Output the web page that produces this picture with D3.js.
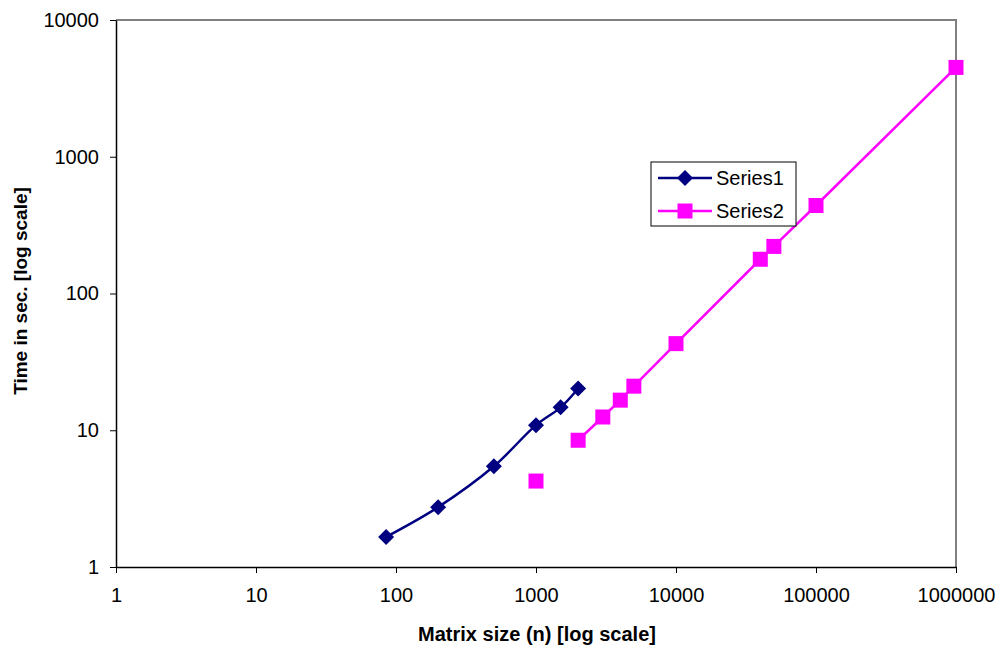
<!DOCTYPE html>
<html>
<head>
<meta charset="utf-8">
<script src="https://cdn.jsdelivr.net/npm/d3@7"></script>
<style>
  body { margin: 0; background: #fff; }
  svg { display: block; font-family: "Liberation Sans", Arial, sans-serif; }
</style>
</head>
<body>
<svg id="chart" width="1000" height="649"></svg>
<script>
// data
var series1X = [85, 200, 500, 1000, 1500, 2000];
var series1Y = [1.66, 2.74, 5.45, 10.9, 14.7, 20.2];

// first point of series 2 stands alone (gap before the next one)
var series2X = [1000, null, 2000, 3000, 4000, 5000, 10000, 40000, 50000, 100000, 1000000];
var series2Y = [4.25, null, 8.45, 12.5, 16.6, 21, 43, 178, 221, 440, 4500];

var xTicks = [1, 10, 100, 1000, 10000, 100000, 1000000];
var yTicks = [1, 10, 100, 1000, 10000];
var seriesNames = ["Series1", "Series2"];

var plotL = 116, plotR = 956, plotT = 20, plotB = 567;
var svg = d3.select("#chart");

var x = d3.scaleLog().domain([1, 1000000]).range([plotL, plotR]);
var y = d3.scaleLog().domain([1, 10000]).range([plotB, plotT]);

// frame: grey top/right, black axes drawn later
svg.append("path")
  .attr("d", "M" + plotL + "," + plotT + "H" + plotR + "V" + plotB)
  .attr("fill", "none")
  .attr("stroke", "#808080")
  .attr("stroke-width", 2);

var xAxis = svg.append("g")
  .attr("transform", "translate(0," + plotB + ")")
  .call(d3.axisBottom(x).tickValues(xTicks).tickFormat(d3.format("d"))
    .tickSizeInner(6).tickSizeOuter(0).tickPadding(15));
var yAxis = svg.append("g")
  .attr("transform", "translate(" + plotL + ",0)")
  .call(d3.axisLeft(y).tickValues(yTicks).tickFormat(d3.format("d"))
    .tickSizeInner(6).tickSizeOuter(0).tickPadding(11));

[xAxis, yAxis].forEach(function(g){
  g.select(".domain").attr("stroke", "#000").attr("stroke-width", 1.5);
  g.selectAll(".tick line").attr("stroke", "#000").attr("stroke-width", 1);
  g.selectAll(".tick text")
    .attr("fill", "#000")
    .style("font-size", "20px")
    .style("font-family", "'Liberation Sans', Arial, sans-serif");
});

// axis titles
svg.append("text")
  .attr("x", 537).attr("y", 641)
  .attr("text-anchor", "middle")
  .style("font-size", "20px").style("font-weight", "bold")
  .text("Matrix size (n) [log scale]");
svg.append("text")
  .attr("transform", "translate(27,291) rotate(-90)")
  .attr("text-anchor", "middle")
  .style("font-size", "19px").style("font-weight", "bold")
  .text("Time in sec. [log scale]");

var color1 = "#000080", color2 = "#ff00ff";

var s1 = series1X.map(function(d, i){ return [d, series1Y[i]]; });
var s2 = series2X.map(function(d, i){ return [d, series2Y[i]]; });

var line1 = d3.line()
  .x(function(d){ return x(d[0]); })
  .y(function(d){ return y(d[1]); })
  .curve(d3.curveCatmullRom.alpha(0.5));
var line2 = d3.line()
  .defined(function(d){ return d[0] != null; })
  .x(function(d){ return x(d[0]); })
  .y(function(d){ return y(d[1]); });

svg.append("path").datum(s1)
  .attr("d", line1).attr("fill", "none")
  .attr("stroke", color1).attr("stroke-width", 2.5);
svg.append("path").datum(s2)
  .attr("d", line2).attr("fill", "none")
  .attr("stroke", color2).attr("stroke-width", 2.5);

var diamond = "M0,-8L8,0L0,8L-8,0Z";

svg.append("g").selectAll("path").data(s1).join("path")
  .attr("d", diamond)
  .attr("transform", function(d){ return "translate(" + x(d[0]) + "," + y(d[1]) + ")"; })
  .attr("fill", color1);

svg.append("g").selectAll("rect").data(s2.filter(function(d){ return d[0] != null; }))
  .join("rect")
  .attr("x", function(d){ return x(d[0]) - 7.5; })
  .attr("y", function(d){ return y(d[1]) - 7.5; })
  .attr("width", 15).attr("height", 15)
  .attr("fill", color2);

// legend
var lg = svg.append("g").attr("transform", "translate(651,162)");
lg.append("rect")
  .attr("width", 145).attr("height", 64)
  .attr("fill", "#fff").attr("stroke", "#000").attr("stroke-width", 1);

var rows = lg.selectAll("g.row").data(seriesNames).join("g")
  .attr("class", "row")
  .attr("transform", function(d, i){ return "translate(0," + (16 + i * 33) + ")"; });
rows.append("line")
  .attr("x1", 7).attr("x2", 61)
  .attr("stroke", function(d, i){ return i ? color2 : color1; })
  .attr("stroke-width", 2.5);
rows.each(function(d, i){
  var g = d3.select(this);
  if (i === 0) {
    g.append("path").attr("d", diamond).attr("transform", "translate(34,0)").attr("fill", color1);
  } else {
    g.append("rect").attr("x", 26.5).attr("y", -7.5).attr("width", 15).attr("height", 15).attr("fill", color2);
  }
});
rows.append("text")
  .attr("x", 65).attr("dy", "0.35em")
  .style("font-size", "20px")
  .text(function(d){ return d; });
</script>
</body>
</html>
